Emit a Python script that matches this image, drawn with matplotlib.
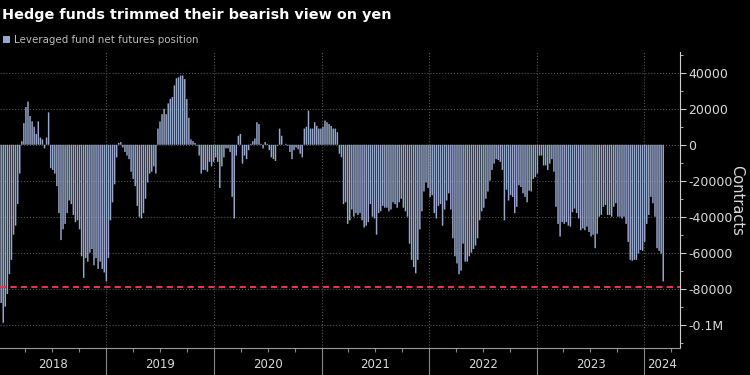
import numpy as np
import pandas as pd
import matplotlib
matplotlib.use("Agg")
import matplotlib.pyplot as plt
import matplotlib.dates as mdates
from matplotlib.ticker import FuncFormatter, MultipleLocator

# weekly CFTC positions, leveraged funds, JPY futures (contracts)
first_week = "2018-01-09"
net_position = [
    -88000, -99000, -90000, -83000, -72000, -64000, -50000, -45000, -33000, -16000,
    2000, 12000, 21000, 24000, 16000, 13000, 10000, 6000, 13000, 4000,
    3000, -2000, 4000, 18000, -13000, -14000, -16000, -23000, -38000, -53000,
    -47000, -44000, -38000, -31000, -33000, -39000, -43000, -42000, -47000, -62000,
    -74000, -63000, -65000, -60000, -58000, -67000, -63000, -69000, -65000, -69000,
    -71000, -76000, -63000, -42000, -32000, -22000, -7000, 1000, 1500, -1500,
    -4000, -6000, -8000, -15000, -19000, -23000, -34000, -40000, -41000, -38000,
    -30000, -21000, -16000, -15000, -12000, -16000, 9000, 13000, 17000, 20000,
    17000, 23000, 25500, 26500, 33000, 37000, 37500, 38500, 38500, 36500,
    25500, 15000, 3000, 2000, 1000, -500, -6000, -16000, -14000, -14000,
    -15000, -9500, -12000, -9500, -7000, -9500, -24000, -12000, -7000, -2000,
    -2000, -4000, -29000, -41000, -6000, 5000, 6000, -10500, -6000, -8000,
    -3000, 500, 2000, 3500, 12500, 11500, 500, -2000, 1500, 500,
    -3000, -7000, -8000, -9000, -500, 9000, 5000, 0, 500, -500,
    -4000, -8000, -3000, -1500, -2500, -5000, -7000, 9000, 10000, 19000,
    9000, 9000, 12500, 10500, 9000, 9000, 10000, 13500, 12500, 11500,
    10500, 9000, 9000, 7000, -5000, -7000, -33000, -32000, -44000, -42000,
    -36000, -40000, -38000, -39000, -38000, -42000, -46000, -45000, -43000, -33000,
    -40000, -41000, -50000, -38000, -37000, -34000, -35000, -35000, -37000, -36000,
    -32000, -33000, -35000, -32000, -30000, -35000, -37000, -40000, -55000, -64000,
    -68000, -71500, -64000, -47000, -37000, -26000, -21000, -24000, -29000, -28000,
    -38000, -41000, -34000, -33000, -45000, -36000, -31000, -27000, -36000, -52000,
    -62000, -66000, -72000, -70000, -55000, -65000, -65000, -62000, -60000, -58000,
    -56000, -52000, -42000, -37000, -35000, -30000, -26000, -20000, -14000, -10500,
    -8000, -8500, -9500, -14000, -42000, -25000, -31000, -28000, -29000, -38000,
    -34500, -22500, -23500, -27000, -29000, -32000, -25500, -26000, -19000, -18000,
    -16000, -6000, -6000, -11500, -11500, -14000, -10500, -8000, -15000, -34500,
    -44000, -51000, -43000, -44000, -43000, -45000, -45500, -37500, -35500, -38000,
    -41000, -47500, -46500, -47500, -45500, -48500, -51000, -50000, -57500, -49500,
    -40000, -39000, -34500, -33500, -39000, -39000, -40000, -34500, -32500, -40000,
    -40000, -41000, -40000, -44000, -54000, -64000, -64500, -64000, -64000, -60500,
    -58500, -59000, -54000, -44000, -39000, -29000, -32500, -40000, -57500, -59000,
    -60500, -76000,
]
threshold = -79000
years = [2018, 2019, 2020, 2021, 2022, 2023, 2024]

weeks = pd.date_range(first_week, periods=len(net_position), freq="7D")
x_start = pd.Timestamp("2018-01-05")
x_end = pd.Timestamp("2024-05-01")

fig = plt.figure(figsize=(7.5, 3.75), dpi=100, facecolor="black")
ax = fig.add_axes([0.0, 0.072, 0.9067, 0.789])
ax.set_facecolor("black")

bars = ax.bar(weeks, net_position, width=5, color="#98a8cc", linewidth=0,
              label="Leveraged fund net futures position", zorder=2)
for b in bars:
    b.set_snap(False)
ax.axhline(threshold, color="#e8334f", linestyle=(0, (3, 2)), linewidth=1.5, zorder=3)

ax.set_xlim(x_start, x_end)
ax.set_ylim(-113000, 51500)

# y axis on the right
ax.yaxis.tick_right()
ax.yaxis.set_label_position("right")
ax.yaxis.set_major_locator(MultipleLocator(20000))
ax.yaxis.set_minor_locator(MultipleLocator(10000))

def fmt(v, pos):
    if abs(v) >= 100000:
        return f"{v / 1e6:g}M"
    return f"{int(v)}"

ax.yaxis.set_major_formatter(FuncFormatter(fmt))
ax.tick_params(axis="y", which="both", direction="out", color="#cccccc",
               labelcolor="#d9d9d9", labelsize=9, pad=2)
ax.tick_params(axis="y", which="major", length=4)
ax.tick_params(axis="y", which="minor", length=2)
ax.set_ylabel("Contracts", rotation=270, color="#d9d9d9", fontsize=10.5, labelpad=8)

# x axis: year separators + quarterly minor ticks, labels centred in each year
ax.xaxis.set_major_locator(mdates.YearLocator())
ax.xaxis.set_minor_locator(mdates.MonthLocator(bymonth=[4, 7, 10]))
ax.xaxis.set_major_formatter(plt.NullFormatter())
ax.tick_params(axis="x", which="major", length=20, color="#888888", width=0.8)
ax.tick_params(axis="x", which="minor", length=3, color="#888888", width=0.8)

for y in years:
    a = max(pd.Timestamp(f"{y}-01-01"), x_start)
    b = min(pd.Timestamp(f"{y + 1}-01-01"), x_end)
    mid = a + (b - a) / 2
    ax.text(mid, -0.057, str(y), transform=ax.get_xaxis_transform(),
            ha="center", va="center", color="#d9d9d9", fontsize=8.5)

for s in ["top", "left"]:
    ax.spines[s].set_visible(False)
ax.spines["right"].set_color("#cccccc")
ax.spines["bottom"].set_color("#999999")

ax.grid(True, which="major", color="#555555", linestyle=":", linewidth=0.8, zorder=0)
ax.set_axisbelow(True)

fig.text(0.003, 0.96, "Hedge funds trimmed their bearish view on yen",
         color="white", fontsize=10.4, fontweight="bold", ha="left", va="center")

leg = fig.legend(handles=[bars], loc="center left", bbox_to_anchor=(0.0, 0.893),
                 frameon=False, fontsize=7.4, handlelength=0.7, handleheight=0.7,
                 handletextpad=0.35, borderaxespad=0, borderpad=0.3)
for t in leg.get_texts():
    t.set_color("#bbbbbb")

fig.savefig("out.png", dpi=100, facecolor="black")
